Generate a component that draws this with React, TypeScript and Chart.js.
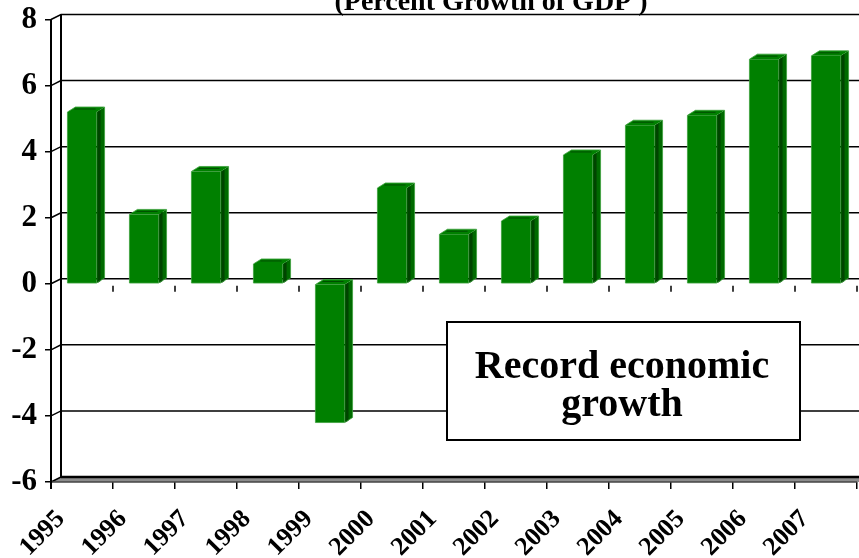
import React, { useEffect, useRef } from "react";
import { Chart, registerables } from "chart.js";

Chart.register(...registerables);

const years = ["1995", "1996", "1997", "1998", "1999", "2000", "2001", "2002", "2003", "2004", "2005", "2006", "2007"];
const growth = [5.2, 2.1, 3.4, 0.6, -4.2, 2.9, 1.5, 1.9, 3.9, 4.8, 5.1, 6.8, 6.9];
const yTicks = [-6, -4, -2, 0, 2, 4, 6, 8];
const titleText = "(Percent Growth of GDP )";
const noteLines = ["Record economic", "growth"];

const FONT = "'Liberation Serif', 'Times New Roman', serif";
const W = 859;
const H = 558;
const DX = 10;
const DY = 5;
const BDX = 8;
const BDY = 5;

const wallPlugin = {
  id: "wall3d",
  beforeDatasetsDraw(chart: any) {
    const { ctx, chartArea, scales } = chart;
    const { left, right, bottom } = chartArea;
    const ys = scales.y;
    const xs = scales.x;
    ctx.save();
    // floor
    ctx.beginPath();
    ctx.moveTo(left, bottom);
    ctx.lineTo(left + DX, bottom - DY);
    ctx.lineTo(W, bottom - DY);
    ctx.lineTo(W, bottom);
    ctx.closePath();
    ctx.fillStyle = "#8c8c8c";
    ctx.fill();
    // gridlines on back wall
    ctx.strokeStyle = "#000";
    ctx.lineWidth = 1.5;
    yTicks.forEach((v) => {
      const y = ys.getPixelForValue(v);
      ctx.beginPath();
      ctx.moveTo(left, y);
      ctx.lineTo(left + DX, y - DY);
      ctx.lineTo(W, y - DY);
      ctx.stroke();
    });
    // thicker back floor line
    ctx.lineWidth = 2.5;
    ctx.beginPath();
    ctx.moveTo(left + DX, bottom - DY);
    ctx.lineTo(W, bottom - DY);
    ctx.stroke();
    // front floor line
    ctx.strokeStyle = "#444";
    ctx.lineWidth = 1.5;
    ctx.beginPath();
    ctx.moveTo(left, bottom);
    ctx.lineTo(right, bottom);
    ctx.stroke();
    // walls
    ctx.strokeStyle = "#000";
    ctx.lineWidth = 2;
    const yTop = ys.getPixelForValue(yTicks[yTicks.length - 1]);
    ctx.beginPath();
    ctx.moveTo(left, yTop);
    ctx.lineTo(left, bottom + 7);
    ctx.moveTo(left + DX, yTop - DY);
    ctx.lineTo(left + DX, bottom - DY);
    ctx.stroke();
    // ticks at zero crossing
    const y0 = ys.getPixelForValue(0);
    const cw = (xs.right - xs.left) / years.length;
    ctx.lineWidth = 1.5;
    ctx.beginPath();
    for (let i = 1; i <= years.length; i++) {
      const x = xs.left + i * cw;
      ctx.moveTo(x, y0 + 2);
      ctx.lineTo(x, y0 + 8);
    }
    ctx.stroke();
    ctx.restore();
  },
  afterDatasetsDraw(chart: any) {
    const { ctx } = chart;
    const meta = chart.getDatasetMeta(0);
    ctx.save();
    meta.data.forEach((bar: any) => {
      const { x, y, base, width } = bar.getProps(["x", "y", "base", "width"], true);
      const l = x - width / 2;
      const r = x + width / 2;
      const t = Math.min(y, base);
      const b = Math.max(y, base);
      // side face
      ctx.beginPath();
      ctx.moveTo(r, t);
      ctx.lineTo(r + BDX, t - BDY);
      ctx.lineTo(r + BDX, b - BDY);
      ctx.lineTo(r, b);
      ctx.closePath();
      ctx.fillStyle = "#006a00";
      ctx.fill();
      ctx.beginPath();
      ctx.moveTo(r + 1, t);
      ctx.lineTo(r + 4, t - 2);
      ctx.lineTo(r + 4, b - 2);
      ctx.lineTo(r + 1, b);
      ctx.closePath();
      ctx.fillStyle = "#004400";
      ctx.fill();
      // top face
      ctx.beginPath();
      ctx.moveTo(l, t);
      ctx.lineTo(l + BDX, t - BDY);
      ctx.lineTo(r + BDX, t - BDY);
      ctx.lineTo(r, t);
      ctx.closePath();
      ctx.fillStyle = "#008000";
      ctx.fill();
      ctx.strokeStyle = "#004d00";
      ctx.lineWidth = 1;
      ctx.beginPath();
      ctx.moveTo(l + BDX - 1, t - BDY + 2);
      ctx.lineTo(r - 1, t - BDY + 2);
      ctx.stroke();
      // outline
      ctx.strokeStyle = "rgba(60,160,60,0.8)";
      ctx.lineWidth = 1;
      ctx.beginPath();
      ctx.moveTo(l, b);
      ctx.lineTo(l, t);
      ctx.lineTo(l + BDX, t - BDY);
      ctx.lineTo(r + BDX, t - BDY);
      ctx.lineTo(r + BDX, b - BDY);
      ctx.lineTo(r, b);
      ctx.closePath();
      ctx.stroke();
    });
    ctx.restore();
  },
  afterDraw(chart: any) {
    const { ctx } = chart;
    ctx.save();
    // title (partially cut at top)
    ctx.fillStyle = "#000";
    ctx.font = `bold 28px ${FONT}`;
    ctx.textAlign = "center";
    ctx.textBaseline = "alphabetic";
    ctx.fillText(titleText, 491, 10);
    // annotation box
    ctx.fillStyle = "#fff";
    ctx.fillRect(447, 322, 353, 118);
    ctx.strokeStyle = "#000";
    ctx.lineWidth = 2;
    ctx.strokeRect(447, 322, 353, 118);
    ctx.fillStyle = "#000";
    ctx.font = `bold 40px ${FONT}`;
    ctx.fillText(noteLines[0], 622, 378);
    ctx.fillText(noteLines[1], 622, 416);
    ctx.restore();
  },
};

export default function App() {
  const ref = useRef<HTMLCanvasElement | null>(null);
  useEffect(() => {
    if (!ref.current) return;
    const chart = new Chart(ref.current, {
      type: "bar",
      data: {
        labels: years,
        datasets: [
          {
            data: growth,
            backgroundColor: "#008000",
            borderWidth: 0,
            barPercentage: 0.47,
            categoryPercentage: 1,
          },
        ],
      },
      options: {
        responsive: false,
        animation: false,
        events: [],
        layout: { padding: { top: 19.5, right: 2, left: 0, bottom: 0 } },
        plugins: { legend: { display: false }, tooltip: { enabled: false }, title: { display: false } },
        scales: {
          x: {
            offset: true,
            grid: { offset: true, drawOnChartArea: false, drawTicks: true, tickLength: 7, color: "#000", lineWidth: 1.5 },
            border: { display: false },
            ticks: {
              autoSkip: false,
              minRotation: 45,
              maxRotation: 45,
              padding: 15,
              labelOffset: -21,
              color: "#000",
              font: { family: FONT, size: 26, weight: "bold" },
            },
            afterFit: (s: any) => {
              s.height = 76;
              s.paddingLeft = 0;
              s.paddingRight = 0;
            },
          },
          y: {
            min: -6,
            max: 8,
            ticks: {
              stepSize: 2,
              padding: 8,
              color: "#000",
              font: { family: FONT, size: 31, weight: "bold" },
            },
            grid: { drawOnChartArea: false, drawTicks: true, tickLength: 6, color: "#000", lineWidth: 1.5 },
            border: { display: false },
            afterFit: (s: any) => {
              s.width = 51;
              s.paddingTop = 0;
              s.paddingBottom = 0;
            },
          },
        },
      },
      plugins: [wallPlugin],
    });
    return () => chart.destroy();
  }, []);
  return (
    <div style={{ position: "fixed", left: 0, top: 0, width: W, height: H, background: "#fff" }}>
      <canvas ref={ref} width={W} height={H} style={{ display: "block" }} />
    </div>
  );
}
